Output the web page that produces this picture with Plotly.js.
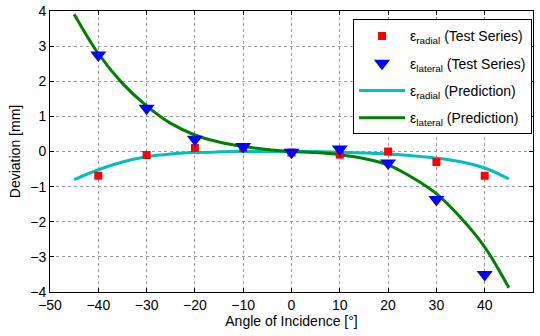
<!DOCTYPE html>
<html>
<head>
<meta charset="utf-8">
<script src="https://cdn.plot.ly/plotly-3.0.1.min.js"></script>
<style>html,body{margin:0;padding:0;background:#fff}#chart{width:540px;height:336px}</style>
</head>
<body>
<div id="chart"></div>
<script>
// Test series
const testAngles = [-40, -30, -20, -10, 0, 10, 20, 30, 40];
const radialTest = [-0.69, -0.10, 0.10, 0.10, -0.03, -0.09, 0.00, -0.30, -0.69];
const lateralTest = [2.75, 1.23, 0.35, 0.14, -0.02, 0.07, -0.33, -1.37, -3.50];

// Prediction curves
const predAngles = [-45, -40, -35, -30, -25, -20, -15, -10, -5, 0, 5, 10, 15, 20, 25, 30, 35, 40, 45];
const radialPred = [-0.80, -0.52, -0.30, -0.15, -0.07, -0.03, -0.01, 0.00, 0.00, 0.00, 0.00, -0.02, -0.04, -0.07, -0.12, -0.19, -0.29, -0.47, -0.78];
const lateralPred = [3.91, 2.79, 1.94, 1.30, 0.80, 0.47, 0.27, 0.14, 0.06, 0.00, -0.03, -0.09, -0.20, -0.38, -0.74, -1.20, -1.88, -2.72, -3.88];

const legendNames = [
  'ε<sub>radial</sub> (Test Series)',
  'ε<sub>lateral</sub> (Test Series)',
  'ε<sub>radial</sub> (Prediction)',
  'ε<sub>lateral</sub> (Prediction)'
];
const xTicks = [-50, -40, -30, -20, -10, 0, 10, 20, 30, 40, 50];
const yTicks = [-4, -3, -2, -1, 0, 1, 2, 3, 4];

const font = {family: 'Liberation Sans, Arial, sans-serif', size: 14, color: '#000'};

const traces = [
  {x: predAngles, y: radialPred, mode: 'lines', name: legendNames[2], legendrank: 3, legendgroup: 'c',
   line: {color: '#00BFBF', width: 3, shape: 'spline'}},
  {x: predAngles, y: lateralPred, mode: 'lines', name: legendNames[3], legendrank: 4, legendgroup: 'd',
   line: {color: '#008000', width: 3, shape: 'spline'}},
  {x: testAngles, y: radialTest, mode: 'markers', name: legendNames[0], legendrank: 1, legendgroup: 'a',
   marker: {symbol: 'square', color: '#FF0000', size: 8}},
  {x: testAngles, y: lateralTest, mode: 'markers', name: legendNames[1], legendrank: 2, legendgroup: 'b',
   marker: {symbol: 'triangle-down', color: '#0000FF', size: 14}}
];

const axisCommon = {
  showline: true, linecolor: '#000', linewidth: 1, mirror: 'allticks',
  ticks: 'inside', ticklen: 4, tickcolor: '#000',
  showgrid: true, gridcolor: '#999', griddash: 'dot', gridwidth: 1,
  zeroline: false, tickfont: font
};

const layout = {
  width: 540, height: 336,
  margin: {l: 50, r: 7, t: 11, b: 44},
  paper_bgcolor: '#fff', plot_bgcolor: '#fff',
  font: font,
  showlegend: true,
  xaxis: Object.assign({}, axisCommon, {
    range: [-50, 50], tickvals: xTicks, ticktext: xTicks.map(v => v < 0 ? '\u2212' + Math.abs(v) : String(v)),
    title: {text: 'Angle of Incidence [°]', font: font, standoff: 4}
  }),
  yaxis: Object.assign({}, axisCommon, {
    range: [-4, 4], tickvals: yTicks, ticktext: yTicks.map(v => v < 0 ? '\u2212' + Math.abs(v) : String(v)),
    title: {text: 'Deviation [mm]', font: font, standoff: 6}
  }),
  legend: {
    x: 0.998, xanchor: 'right', y: 0.97, yanchor: 'top',
    bgcolor: '#fff', bordercolor: '#000', borderwidth: 1,
    font: font, traceorder: 'grouped', tracegroupgap: 6, itemwidth: 46
  }
};

Plotly.newPlot('chart', traces, layout, {displayModeBar: false, staticPlot: true});
</script>
</body>
</html>
